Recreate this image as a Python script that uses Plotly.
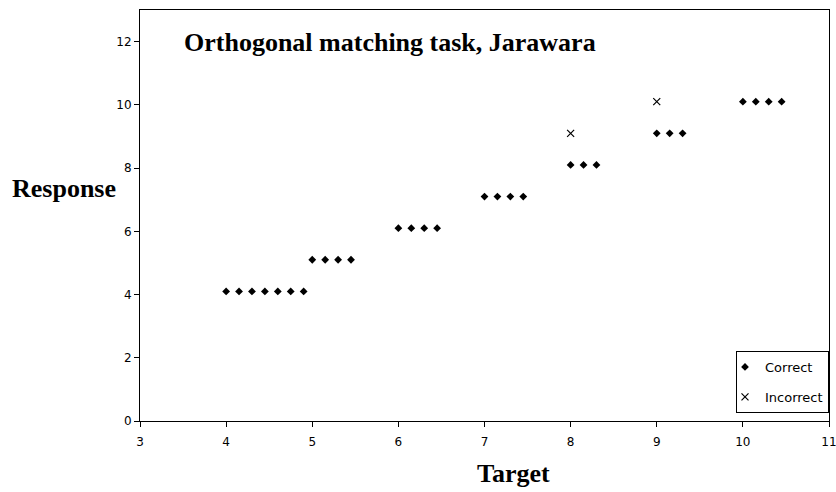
import plotly.graph_objects as go

# Data
correct_x = [4, 4.15, 4.3, 4.45, 4.6, 4.75, 4.9,
             5, 5.15, 5.3, 5.45,
             6, 6.15, 6.3, 6.45,
             7, 7.15, 7.3, 7.45,
             8, 8.15, 8.3,
             9, 9.15, 9.3,
             10, 10.15, 10.3, 10.45]
correct_y = [4.1] * 7 + [5.1] * 4 + [6.1] * 4 + [7.1] * 4 + [8.1] * 3 + [9.1] * 3 + [10.1] * 4
incorrect_x = [8, 9]
incorrect_y = [9.1, 10.1]

x_ticks = [3, 4, 5, 6, 7, 8, 9, 10, 11]
y_ticks = [0, 2, 4, 6, 8, 10, 12]

W, H = 836, 492
L, R, T, B = 140, 7, 10, 71
PW, PH = W - L - R, H - T - B


def px_x(p):
    return (p - L) / PW


def px_y(p):
    return (H - B - p) / PH


serif = "Liberation Serif"
sans = "DejaVu Sans"

fig = go.Figure()
fig.add_trace(go.Scatter(
    x=correct_x, y=correct_y, mode="markers", name="Correct",
    legendgroup="a",
    marker=dict(symbol="diamond", size=6, color="black", line=dict(width=0)),
))
fig.add_trace(go.Scatter(
    x=incorrect_x, y=incorrect_y, mode="markers", name="Incorrect",
    legendgroup="b",
    marker=dict(symbol="x-thin", size=7, color="black", line=dict(width=1.2, color="black")),
))

axis_common = dict(
    showline=True, linecolor="black", linewidth=1, mirror=True,
    ticks="outside", ticklen=5, tickcolor="black", tickwidth=1,
    showgrid=False, zeroline=False, automargin=False,
    tickfont=dict(family=sans, size=12, color="black"),
)

fig.update_layout(
    width=W, height=H,
    margin=dict(l=L, r=R, t=T, b=B, autoexpand=False),
    paper_bgcolor="white", plot_bgcolor="white",
    xaxis=dict(range=[3, 11], tickvals=x_ticks, ticklabeloverflow="allow",
               ticklabelstandoff=5, **axis_common),
    yaxis=dict(range=[0, 13], tickvals=y_ticks, **axis_common),
    showlegend=True,
    legend=dict(
        x=1, y=px_y(413), xanchor="right", yanchor="bottom",
        bordercolor="black", borderwidth=1, bgcolor="white",
        font=dict(family=sans, size=13, color="black"),
        tracegroupgap=10, itemwidth=30, indentation=-12,
    ),
    annotations=[
        dict(text="<b>Orthogonal matching task, Jarawara</b>", xref="paper", yref="paper",
             x=px_x(182), y=px_y(42), xanchor="left", yanchor="middle", showarrow=False,
             font=dict(family=serif, size=26, color="black")),
        dict(text="<b>Response</b>", xref="paper", yref="paper",
             x=px_x(10), y=px_y(188), xanchor="left", yanchor="middle", showarrow=False,
             font=dict(family=serif, size=26, color="black")),
        dict(text="<b>Target</b>", xref="paper", yref="paper",
             x=px_x(513), y=px_y(473), xanchor="center", yanchor="middle", showarrow=False,
             font=dict(family=serif, size=26, color="black")),
    ],
)

fig.write_html("out.html", config={"displayModeBar": False},
               post_script="document.body.style.margin='0px';document.body.style.overflow='hidden';")
